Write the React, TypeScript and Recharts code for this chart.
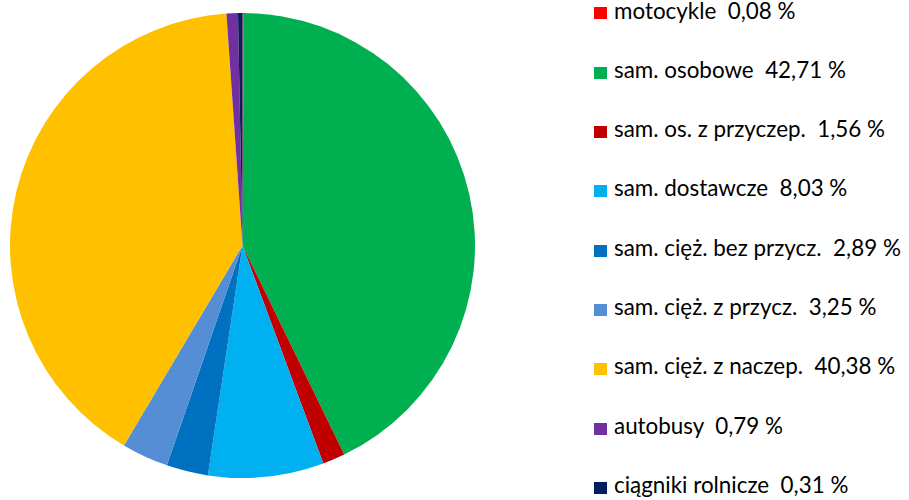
import React from 'react';
import { PieChart, Pie, Cell, Legend } from 'recharts';

const categories = [
  'motocykle',
  'sam. osobowe',
  'sam. os. z przyczep.',
  'sam. dostawcze',
  'sam. cięż. bez przycz.',
  'sam. cięż. z przycz.',
  'sam. cięż. z naczep.',
  'autobusy',
  'ciągniki rolnicze',
];
const shares = [0.08, 42.71, 1.56, 8.03, 2.89, 3.25, 40.38, 0.79, 0.31];
const shareLabels = ['0,08 %', '42,71 %', '1,56 %', '8,03 %', '2,89 %', '3,25 %', '40,38 %', '0,79 %', '0,31 %'];
const colors = ['#FF0000', '#00B050', '#C00000', '#00B0F0', '#0070C0', '#558ED5', '#FFC000', '#7030A0', '#002060'];

const data = categories.map((name, i) => ({ name, value: shares[i], label: shareLabels[i] }));

const ROW = 59.33;

const renderLegend = () => (
  <div style={{ position: 'relative', width: 909, height: 500 }}>
    {data.map((d, i) => (
      <React.Fragment key={d.name}>
        <span
          style={{
            position: 'absolute',
            left: 594,
            top: 7.3 + i * ROW,
            width: 13,
            height: 12,
            background: colors[i],
          }}
        />
        <span
          style={{
            position: 'absolute',
            left: 614,
            top: 0.5 + i * ROW,
            height: 20,
            lineHeight: '20px',
            whiteSpace: 'pre',
            fontFamily: 'Lato, sans-serif',
            fontSize: 22.4,
            color: '#000',
          }}
        >
          {`${d.name}  ${d.label}`}
        </span>
      </React.Fragment>
    ))}
  </div>
);

export default function App() {
  return (
    <div style={{ position: 'absolute', left: 0, top: 0 }}>
      <PieChart width={909} height={500} margin={{ top: 0, right: 0, bottom: 0, left: 0 }}>
        <Pie
          data={data}
          dataKey="value"
          nameKey="name"
          cx={242.5}
          cy={245.5}
          outerRadius={232.5}
          startAngle={90}
          endAngle={-270}
          stroke="none"
          isAnimationActive={false}
        >
          {data.map((d, i) => (
            <Cell key={d.name} fill={colors[i]} />
          ))}
        </Pie>
        <Legend
          layout="vertical"
          align="right"
          verticalAlign="top"
          content={renderLegend}
          wrapperStyle={{ left: 0, top: 0, right: 'auto', width: 909, height: 500, pointerEvents: 'none' }}
        />
      </PieChart>
    </div>
  );
}
